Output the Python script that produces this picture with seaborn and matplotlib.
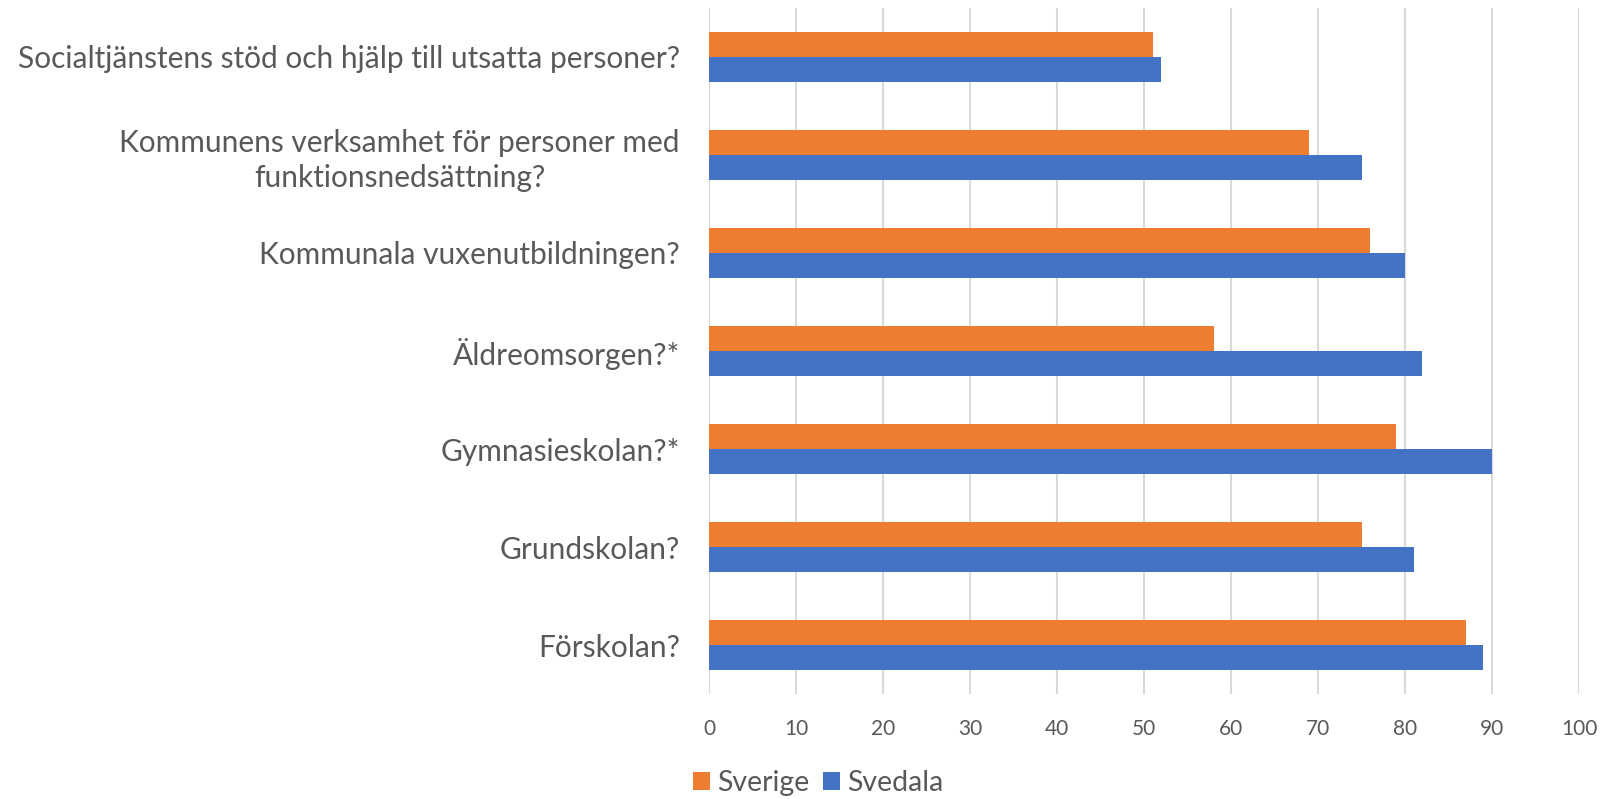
import matplotlib
matplotlib.use("Agg")
import matplotlib.pyplot as plt
import seaborn as sns
import pandas as pd
from matplotlib.patches import Patch

# Data
categories = [
    "Socialtjänstens stöd och hjälp till utsatta personer?",
    "Kommunens verksamhet för personer med\nfunktionsnedsättning?",
    "Kommunala vuxenutbildningen?",
    "Äldreomsorgen?*",
    "Gymnasieskolan?*",
    "Grundskolan?",
    "Förskolan?",
]
sverige = [51, 69, 76, 58, 79, 75, 87]
svedala = [52, 75, 80, 82, 90, 81, 89]
series = ["Sverige", "Svedala"]
colors = ["#ED7D31", "#4472C4"]
xticks = list(range(0, 101, 10))

df = pd.DataFrame({
    "kategori": categories * 2,
    "varde": sverige + svedala,
    "serie": [series[0]] * len(categories) + [series[1]] * len(categories),
})

sns.set_theme(style="white")
plt.rcParams["font.family"] = ["Lato", "DejaVu Sans"]
text_color = "#595959"

fig, ax = plt.subplots(figsize=(16.01, 7.99), dpi=100)
fig.subplots_adjust(left=0.4429, right=0.9863, top=0.99, bottom=0.1314)

sns.barplot(data=df, y="kategori", x="varde", hue="serie", hue_order=series,
            order=categories, palette=colors, orient="h", width=0.52,
            linewidth=0, saturation=1, legend=False, ax=ax)

ax.set_xlim(0, 100)
ax.set_ylim(len(categories) - 0.5, -0.5)
ax.set_xticks(xticks)
ax.set_xticklabels([str(t) for t in xticks], fontsize=15, color=text_color)
ax.set_yticks(range(len(categories)))
ax.set_yticklabels(categories, fontsize=21.5, color=text_color,
                   multialignment="center", linespacing=1.3)
ax.tick_params(axis="y", length=0, pad=21)
ax.tick_params(axis="x", length=0, pad=18)
ax.set_xlabel("")
ax.set_ylabel("")

ax.grid(axis="x", color="#D9D9D9", linewidth=1.5)
ax.set_axisbelow(True)
for s in ax.spines.values():
    s.set_visible(False)

handles = [Patch(facecolor=c, edgecolor="none") for c in colors]
fig.legend(handles, series, loc="center left", bbox_to_anchor=(0.4255, 0.02),
           ncol=2, frameon=False, fontsize=20.5, labelcolor=text_color,
           handlelength=0.6, handleheight=0.6, handletextpad=0.25,
           columnspacing=0.5, borderaxespad=0)

fig.savefig("out.png", dpi=100)
plt.close()
